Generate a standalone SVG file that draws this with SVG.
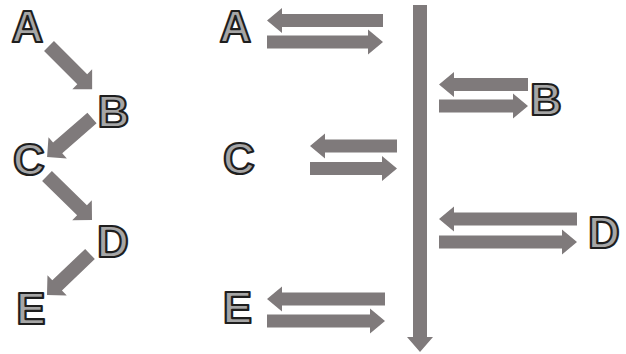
<svg xmlns="http://www.w3.org/2000/svg" width="626" height="354" viewBox="0 0 626 354">
<style>
.lbl{font-family:"Liberation Sans","Open Sans",sans-serif;font-weight:700;font-size:44px;fill:#a6a6a6;stroke:#1e1e1e;stroke-width:2.2;stroke-linejoin:round;text-anchor:middle}
.arr{fill:#7f7a7b}
</style>
<rect width="626" height="354" fill="#fff"/>
<g id="connectors" class="arr">
<path d="M0,-7 H47 V-14 L61,0 L47,14 V7 H0 Z" transform="translate(49,46) rotate(45)"/>
<path d="M0,-7 H45.5 V-14 L59.5,0 L45.5,14 V7 H0 Z" transform="translate(92,118) rotate(139)"/>
<path d="M0,-7 H49 V-14 L63,0 L49,14 V7 H0 Z" transform="translate(47,176) rotate(44.4)"/>
<path d="M0,-7 H45.4 V-14 L59.4,0 L45.4,14 V7 H0 Z" transform="translate(90,254) rotate(136.4)"/>
<path d="M413,5 H427 V337 H433 L420,352 L407,337 H413 Z"/>
<path d="M383,14 V27 H282 V33 L267,20.5 L282,8 V14 Z"/>
<path d="M267,35.5 V48.5 H368 V54.5 L383,42 L368,29.5 V35.5 Z"/>
<path d="M528,78 V91 H454 V97 L439,84.5 L454,72 V78 Z"/>
<path d="M439,99.5 V112.5 H513 V118.5 L528,106 L513,93.5 V99.5 Z"/>
<path d="M397,139.5 V152.5 H325 V158.5 L310,146 L325,133.5 V139.5 Z"/>
<path d="M310,162 V175 H382 V181 L397,168.5 L382,156 V162 Z"/>
<path d="M577,212.5 V225.5 H454 V231.5 L439,219 L454,206.5 V212.5 Z"/>
<path d="M439,235.5 V248.5 H562 V254.5 L577,242 L562,229.5 V235.5 Z"/>
<path d="M385,292.5 V305.5 H282 V311.5 L267,299 L282,286.5 V292.5 Z"/>
<path d="M267,314.5 V327.5 H370 V333.5 L385,321 L370,308.5 V314.5 Z"/>
</g>
<g id="nodeA1"><text class="lbl" x="27.5" y="42">A</text></g>
<g id="nodeB1"><text class="lbl" x="113.5" y="127">B</text></g>
<g id="nodeC1"><text class="lbl" x="29" y="175">C</text></g>
<g id="nodeD1"><text class="lbl" x="113" y="257">D</text></g>
<g id="nodeE1"><text class="lbl" x="31" y="324">E</text></g>
<g id="nodeA2"><text class="lbl" x="235.5" y="42">A</text></g>
<g id="nodeB2"><text class="lbl" x="546" y="115">B</text></g>
<g id="nodeC2"><text class="lbl" x="239" y="174">C</text></g>
<g id="nodeD2"><text class="lbl" x="604" y="248">D</text></g>
<g id="nodeE2"><text class="lbl" x="237.5" y="323">E</text></g>
</svg>
